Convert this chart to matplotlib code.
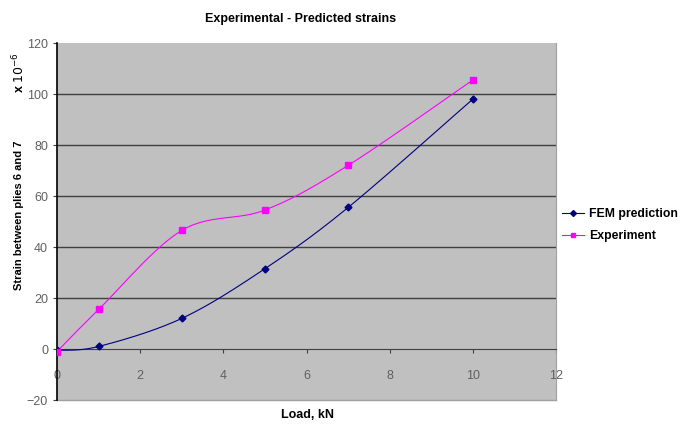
import numpy as np
import matplotlib
matplotlib.use('Agg')
import matplotlib.pyplot as plt

plt.rcParams['font.family'] = ['Liberation Sans', 'DejaVu Sans']

# data
load = [0, 1, 3, 5, 7, 10]
fem = [-0.5, 1.0, 12.0, 31.5, 55.5, 98.0]
experiment = [-1.0, 15.5, 46.5, 54.5, 72.0, 105.5]


def smooth(x, y, n=30):
    # Catmull-Rom style smoothing like Excel's smoothed lines
    x = np.asarray(x, float)
    y = np.asarray(y, float)
    px = np.concatenate([[x[0]], x, [x[-1]]])
    py = np.concatenate([[y[0]], y, [y[-1]]])
    xs, ys = [], []
    t = np.linspace(0, 1, n)
    for i in range(1, len(px) - 2):
        p0, p1, p2, p3 = (np.array([px[j], py[j]]) for j in (i - 1, i, i + 1, i + 2))
        c1 = p1 + (p2 - p0) / 6
        c2 = p2 - (p3 - p1) / 6
        pts = ((1 - t) ** 3)[:, None] * p1 + (3 * (1 - t) ** 2 * t)[:, None] * c1 \
            + (3 * (1 - t) * t ** 2)[:, None] * c2 + (t ** 3)[:, None] * p2
        xs.extend(pts[:, 0])
        ys.extend(pts[:, 1])
    return xs, ys


fig = plt.figure(figsize=(6.93, 4.26), dpi=100)
ax = fig.add_axes([0.0823, 0.061, 0.72, 0.838])
ax.set_facecolor('#c0c0c0')

for v in range(20, 120, 20):
    ax.axhline(v, color='#404040', lw=1.0, zorder=1)

fx, fy = smooth(load, fem)
ex, ey = smooth(load, experiment)
ax.plot(fx, fy, color='#000080', lw=0.8, zorder=3)
ax.plot(ex, ey, color='#ff00ff', lw=0.8, zorder=3)
ax.plot(load, fem, ls='none', marker='D', ms=3.5, color='#000080', zorder=4)
ax.plot(load, experiment, ls='none', marker='s', ms=4.5, color='#ff00ff', zorder=4)

# legend proxies
ax.plot([], [], color='#000080', lw=0.8, marker='D', ms=3, label='FEM prediction')
ax.plot([], [], color='#ff00ff', lw=0.8, marker='s', ms=3.5, label='Experiment')
leg = ax.legend(loc='center left', bbox_to_anchor=(0.99, 0.49), frameon=False,
                fontsize=8.8, handlelength=1.8, handletextpad=0.4, labelspacing=0.8)
for t in leg.get_texts():
    t.set_fontweight('bold')

ax.set_xlim(0, 12)
ax.set_ylim(-20, 120)
ax.set_xticks(range(0, 13, 2))
ax.set_yticks(range(-20, 121, 20))

ax.spines['top'].set_visible(False)
ax.spines['right'].set_color('#a0a0a0')
ax.spines['bottom'].set_position(('data', 0))
ax.spines['bottom'].set_color('#404040')
ax.spines['left'].set_color('black')
ax.spines['left'].set_linewidth(1.2)
ax.tick_params(axis='both', colors='#404040', labelcolor='#606060', labelsize=9,
               length=3, direction='out')
ax.tick_params(axis='x', pad=12)

# bottom-edge line of the plot area
ax.axhline(-20, color='#a0a0a0', lw=1.0, zorder=0, clip_on=False)

fig.text(0.433, 0.955, 'Experimental - Predicted strains', ha='center', va='center',
         fontsize=9, fontweight='bold')
fig.text(0.444, 0.025, 'Load, kN', ha='center', va='center', fontsize=9, fontweight='bold')
fig.text(0.028, 0.495, 'Strain between plies 6 and 7', rotation=90, ha='center',
         va='center', fontsize=8, fontweight='bold')
fig.text(0.028, 0.83, r'x $10^{-6}$', rotation=90, ha='center', va='center',
         fontsize=9, fontweight='bold')

fig.savefig('out.png', dpi=100)
